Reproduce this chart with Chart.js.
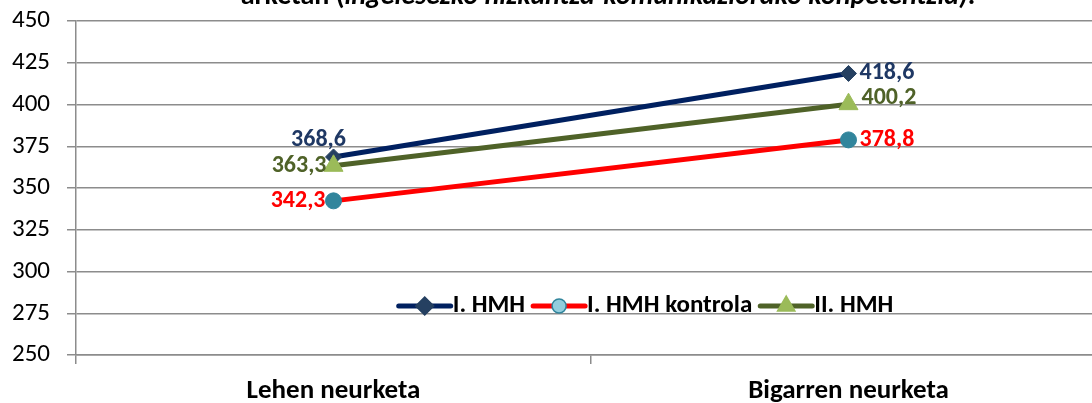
<!DOCTYPE html>
<html>
<head>
<meta charset="utf-8">
<script src="https://cdn.jsdelivr.net/npm/chart.js@4.4.1/dist/chart.umd.min.js"></script>
<style>
  body { margin: 0; overflow: hidden; background: #fff; }
  #wrap { position: relative; width: 1118px; height: 403px; }
</style>
</head>
<body>
<div id="wrap"><canvas id="chartCanvas" width="1118" height="403"></canvas></div>
<script>
const categories = ['Lehen neurketa', 'Bigarren neurketa'];
const seriesNames = ['I. HMH', 'I. HMH kontrola', 'II. HMH'];
const hmh1 = [368.6, 418.6];
const hmhKontrola = [342.3, 378.8];
const hmh2 = [363.3, 400.2];
const yTicks = [250, 275, 300, 325, 350, 375, 400, 425, 450];

const FONT = 'Carlito, "Liberation Sans Narrow", "Open Sans", sans-serif';

// label placement for each point: [dx, dy, align]
let series = [
    { name: seriesNames[0], data: hmh1, line: '#002060', marker: '#254061', markerBorder: '#254061', legendFill: '#254061',
      style: 'rectRot', radius: 8, label: '#1f3864', place: [[-15, -17, 'center'], [11, 0, 'left']], order: 1 },
    { name: seriesNames[1], data: hmhKontrola, line: '#ff0000', marker: '#31859c', markerBorder: '#31859c', legendFill: '#93cddd',
      style: 'circle', radius: 8, label: '#ff0000', place: [[0, 0, 'right'], [11, 0, 'left']], order: 2 },
    { name: seriesNames[2], data: hmh2, line: '#4f6228', marker: '#9bbb59', markerBorder: '#9bbb59', legendFill: '#9bbb59',
      style: 'triangle', radius: 11, label: '#4f6228', place: [[4, 0, 'right'], [13, -6, 'left']], order: 0 }
];

const titlePlugin = {
    id: 'cutTitle',
    afterDraw(chart) {
        const ctx = chart.ctx;
        const a = 'arketan (';
        const b = 'ingelesezko hizkuntza-komunikaziorako konpetentzia)';
        const c = '.';
        ctx.save();
        ctx.fillStyle = '#000';
        ctx.textBaseline = 'alphabetic';
        ctx.font = 'bold 28px ' + FONT;
        const wa = ctx.measureText(a).width, wc = ctx.measureText(c).width;
        ctx.font = 'italic bold 28px ' + FONT;
        const wb = ctx.measureText(b).width;
        let x = 608 - (wa + wb + wc) / 2;
        const y = 4;
        ctx.font = 'bold 28px ' + FONT;
        ctx.textAlign = 'left';
        ctx.fillText(a, x, y); x += wa;
        ctx.font = 'italic bold 28px ' + FONT;
        ctx.fillText(b, x, y); x += wb;
        ctx.font = 'bold 28px ' + FONT;
        ctx.fillText(c, x, y);
        ctx.restore();
    }
};

const labelsPlugin = {
    id: 'valueLabels',
    afterDatasetsDraw(chart) {
        const ctx = chart.ctx;
        ctx.save();
        ctx.font = 'bold 24px ' + FONT;
        ctx.textBaseline = 'middle';
        series.forEach((s, i) => {
            const meta = chart.getDatasetMeta(i);
            meta.data.forEach((pt, j) => {
                const p = s.place[j];
                ctx.fillStyle = s.label;
                ctx.textAlign = p[2];
                const dx = p[2] == 'right' ? p[0] - s.radius : p[0];
                ctx.fillText(String(s.data[j]).replace('.', ','), pt.x + dx, pt.y + p[1]);
            });
        });
        ctx.restore();
    }
};

const legendPlugin = {
    id: 'lineLegend',
    afterDatasetsDraw(chart) {
        const ctx = chart.ctx;
        const lineLen = 52, gap = 2;
        ctx.save();
        ctx.font = 'bold 25px ' + FONT;
        let total = 0;
        series.forEach(s => { total += lineLen + gap + ctx.measureText(s.name).width + 8; });
        let x = 650 - total / 2;
        const y = 306;
        series.forEach(s => {
            ctx.strokeStyle = s.line;
            ctx.lineWidth = 5;
            ctx.lineCap = 'round';
            ctx.beginPath();
            ctx.moveTo(x, y);
            ctx.lineTo(x + lineLen, y);
            ctx.stroke();
            const r = s.style == 'triangle' ? 10 : (s.style == 'circle' ? 7 : 9);
            ctx.fillStyle = s.legendFill;
            ctx.strokeStyle = s.markerBorder;
            ctx.lineWidth = 1.5;
            Chart.helpers.drawPoint(ctx, { pointStyle: s.style, radius: r, borderWidth: 1.5 }, x + lineLen / 2, y);
            x += lineLen + gap;
            ctx.fillStyle = '#000';
            ctx.textAlign = 'left';
            ctx.textBaseline = 'middle';
            ctx.fillText(s.name, x, y);
            x += ctx.measureText(s.name).width + 8;
        });
        ctx.restore();
    }
};

let data = {
    labels: categories,
    datasets: series.map(s => ({
        label: s.name,
        data: s.data,
        borderColor: s.line,
        borderWidth: 5,
        backgroundColor: s.marker,
        pointStyle: s.style,
        pointRadius: s.radius,
        pointBackgroundColor: s.marker,
        pointBorderColor: s.markerBorder,
        pointBorderWidth: 1,
        tension: 0,
        order: s.order
    }))
};

let options = {
    responsive: false,
    animation: false,
    layout: { padding: { top: 21, left: 0, right: 0, bottom: 0 } },
    plugins: {
        legend: { display: false },
        title: { display: false },
        tooltip: { enabled: false }
    },
    scales: {
        x: {
            offset: true,
            grid: { drawOnChartArea: false, offset: true, tickLength: 9, color: '#8c8c8c', lineWidth: 1.5 },
            border: { color: '#8c8c8c', width: 1.5 },
            ticks: { color: '#000', padding: 11, font: { family: FONT, size: 27, weight: 'bold' } },
            afterFit: (scale) => {
                scale.height = 48;
                scale.paddingLeft = 0;
                scale.paddingRight = 0;
            }
        },
        y: {
            min: 250,
            max: 450,
            afterBuildTicks: (scale) => { scale.ticks = yTicks.map(v => ({ value: v })); },
            grid: { color: '#8c8c8c', lineWidth: 1.5, tickLength: 9 },
            border: { color: '#8c8c8c', width: 1.5 },
            ticks: { color: '#000', padding: 17, font: { family: FONT, size: 25 } },
            afterFit: (scale) => {
                scale.width = 76;
                scale.paddingTop = 0;
                scale.paddingBottom = 0;
            }
        }
    }
};

new Chart('chartCanvas', {
    type: 'line',
    data: data,
    options: options,
    plugins: [labelsPlugin, legendPlugin, titlePlugin]
});
</script>
</body>
</html>
